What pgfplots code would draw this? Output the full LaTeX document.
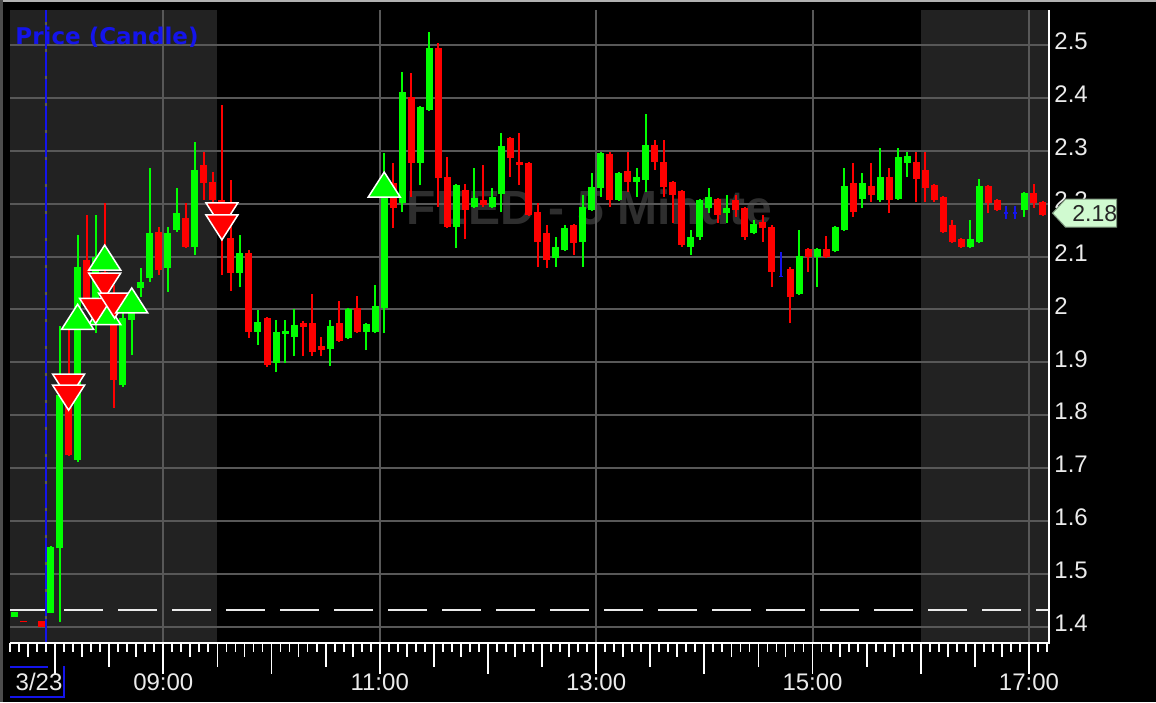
\documentclass[border=0pt]{standalone}
\usepackage{fontspec}
\setmainfont{Liberation Sans}
\newfontfamily\dvs{DejaVu Sans}
\usepackage{pgfplots}
\pgfplotsset{compat=1.18}
\usepackage{pgfplotstable}
\definecolor{cgreen}{RGB}{0,255,0}
\definecolor{cred}{RGB}{255,0,0}
\definecolor{cblue}{RGB}{20,20,235}
\definecolor{gridc}{RGB}{88,88,88}
\definecolor{shadec}{RGB}{34,34,34}
\definecolor{wmark}{RGB}{46,46,46}
\definecolor{labc}{RGB}{235,235,235}
\definecolor{boxc}{RGB}{208,250,208}

\pgfdeclareplotmark{tdown}{%
  \pgfpathmoveto{\pgfqpoint{-8pt}{6.25pt}}%
  \pgfpathlineto{\pgfqpoint{8pt}{6.25pt}}%
  \pgfpathlineto{\pgfqpoint{0pt}{-6.25pt}}%
  \pgfpathclose\pgfusepathqfillstroke}
\pgfdeclareplotmark{tup}{%
  \pgfpathmoveto{\pgfqpoint{-8pt}{-6.25pt}}%
  \pgfpathlineto{\pgfqpoint{8pt}{-6.25pt}}%
  \pgfpathlineto{\pgfqpoint{0pt}{6.25pt}}%
  \pgfpathclose\pgfusepathqfillstroke}

% x = minutes after midnight (bar centre), o h l c
\pgfplotstableread{
x o h l c
457.5 1.419 1.428 1.419 1.428
477.5 1.426 1.552 1.425 1.551
482.5 1.549 1.969 1.409 1.838
492.5 1.715 2.141 1.711 2.081
502.5 2.018 2.179 1.955 2.100
517.5 1.857 2.008 1.853 1.984
522.5 1.980 2.018 1.914 1.993
527.5 2.040 2.078 2.023 2.052
532.5 2.059 2.267 2.052 2.144
542.5 2.078 2.156 2.033 2.144
547.5 2.150 2.230 2.146 2.182
557.5 2.118 2.317 2.103 2.264
582.5 2.069 2.141 2.042 2.107
592.5 1.957 1.999 1.933 1.976
602.5 1.899 1.980 1.882 1.957
607.5 1.953 1.980 1.899 1.959
612.5 1.948 2.001 1.912 1.970
632.5 1.925 1.980 1.893 1.969
642.5 1.946 2.003 1.944 2.001
652.5 1.957 1.974 1.923 1.972
657.5 1.957 2.046 1.955 2.006
662.5 2.003 2.296 1.955 2.226
672.5 2.201 2.449 2.184 2.411
682.5 2.277 2.385 2.235 2.383
687.5 2.377 2.525 2.375 2.494
702.5 2.156 2.237 2.116 2.235
712.5 2.194 2.267 2.192 2.211
722.5 2.194 2.230 2.192 2.213
727.5 2.218 2.334 2.184 2.309
757.5 2.097 2.137 2.080 2.118
762.5 2.112 2.160 2.110 2.154
772.5 2.127 2.216 2.080 2.194
777.5 2.188 2.258 2.186 2.231
782.5 2.230 2.298 2.213 2.296
792.5 2.207 2.260 2.205 2.258
802.5 2.241 2.267 2.213 2.250
807.5 2.245 2.370 2.222 2.311
832.5 2.118 2.150 2.103 2.137
837.5 2.137 2.209 2.131 2.207
842.5 2.192 2.230 2.182 2.213
852.5 2.182 2.216 2.163 2.192
867.5 2.144 2.169 2.142 2.161
892.5 2.029 2.150 2.027 2.101
902.5 2.099 2.116 2.042 2.114
912.5 2.110 2.158 2.108 2.156
917.5 2.150 2.267 2.148 2.233
927.5 2.209 2.258 2.192 2.239
937.5 2.207 2.305 2.203 2.250
947.5 2.209 2.305 2.207 2.288
952.5 2.277 2.298 2.250 2.290
987.5 2.118 2.169 2.116 2.133
992.5 2.127 2.247 2.125 2.233
1017.5 2.188 2.222 2.175 2.220
}\greentab

\pgfplotstableread{
x o h l c
462.5 1.411 1.411 1.408 1.408
472.5 1.411 1.411 1.399 1.399
487.5 1.844 1.961 1.723 1.725
497.5 2.093 2.179 2.008 2.018
507.5 2.070 2.201 1.995 2.020
512.5 2.031 2.046 1.814 1.867
537.5 2.146 2.156 2.065 2.075
552.5 2.173 2.201 2.116 2.118
562.5 2.273 2.298 2.207 2.239
567.5 2.241 2.260 2.197 2.207
572.5 2.207 2.387 2.065 2.188
577.5 2.135 2.245 2.035 2.069
587.5 2.107 2.112 1.946 1.957
597.5 1.984 1.986 1.891 1.895
617.5 1.974 1.978 1.912 1.967
622.5 1.974 2.029 1.912 1.919
627.5 1.931 1.948 1.912 1.923
637.5 1.974 2.016 1.938 1.940
647.5 2.003 2.025 1.955 1.957
667.5 2.239 2.277 2.154 2.192
677.5 2.402 2.447 2.213 2.277
692.5 2.494 2.504 2.194 2.248
697.5 2.250 2.288 2.154 2.156
707.5 2.226 2.237 2.133 2.188
717.5 2.207 2.273 2.194 2.197
732.5 2.324 2.326 2.250 2.286
737.5 2.279 2.334 2.235 2.273
742.5 2.277 2.279 2.177 2.179
747.5 2.184 2.201 2.080 2.127
752.5 2.144 2.160 2.078 2.093
767.5 2.160 2.162 2.103 2.126
787.5 2.294 2.298 2.194 2.207
797.5 2.262 2.298 2.222 2.241
812.5 2.311 2.320 2.264 2.279
817.5 2.279 2.320 2.213 2.231
822.5 2.241 2.243 2.163 2.216
827.5 2.224 2.226 2.118 2.122
847.5 2.209 2.211 2.163 2.179
857.5 2.207 2.216 2.175 2.188
862.5 2.192 2.194 2.131 2.137
872.5 2.165 2.179 2.127 2.154
877.5 2.156 2.160 2.042 2.071
887.5 2.076 2.080 1.974 2.023
897.5 2.114 2.116 2.071 2.099
907.5 2.114 2.139 2.097 2.099
922.5 2.239 2.277 2.175 2.184
932.5 2.233 2.277 2.203 2.216
942.5 2.250 2.267 2.182 2.207
957.5 2.279 2.298 2.203 2.247
962.5 2.264 2.298 2.203 2.230
967.5 2.235 2.237 2.203 2.207
972.5 2.213 2.215 2.144 2.146
977.5 2.160 2.169 2.125 2.127
982.5 2.133 2.135 2.116 2.118
997.5 2.233 2.235 2.182 2.201
1002.5 2.207 2.209 2.186 2.188
1022.5 2.220 2.237 2.192 2.201
1027.5 2.203 2.205 2.177 2.179
}\redtab

\pgfplotstableread{
x o h l c
882.5 2.064 2.109 2.061 2.061
1007.5 2.184 2.196 2.171 2.181
1012.5 2.184 2.196 2.171 2.181
}\bluetab

\pgfplotsset{
  candle/.style 2 args={only marks, mark size=0pt, mark options={draw=none, fill=none}, forget plot,
    error bars/.cd, y dir=plus, y explicit, error mark=none,
    error bar style={draw=#1, line width=#2}},
}

\begin{document}
\begin{tikzpicture}
\fill[black] (0,0) rectangle (578pt,351pt);
\fill[black!30] (0,350.2pt) rectangle (578pt,351pt);
\fill[black!70] (0,0) rectangle (1.3pt,351pt);
\begin{axis}[
  at={(5pt,29.5pt)}, anchor=south west,
  scale only axis, width=519.5pt, height=316.5pt,
  xmin=455, xmax=1031.1, ymin=1.3691, ymax=2.5662,
  xtick=\empty, ytick=\empty,
  axis line style={draw=none},
  clip=false,
]
% session shading and watermark
\fill[shadec] (axis cs:455,1.3691) rectangle (axis cs:570,2.5662);
\fill[shadec] (axis cs:960,1.3691) rectangle (axis cs:1031.1,2.5662);
\node[anchor=base, text=wmark, font=\fontsize{24}{26}\selectfont\bfseries, inner sep=0] at (axis cs:776.3,2.160) {FEED - 5 Minute};

% grid
\pgfplotsinvokeforeach{1.4,1.5,1.6,1.7,1.8,1.9,2.0,2.1,2.2,2.3,2.4,2.5}{\draw[gridc, line width=1pt] (axis cs:455,#1) -- (axis cs:1031.1,#1);}
\pgfplotsinvokeforeach{475,540,660,780,900,1020}{\draw[gridc, line width=1pt] (axis cs:#1,1.3691) -- (axis cs:#1,2.5662);}

% previous close line and session line
\draw[labc, line width=1.2pt, dash pattern=on 19.5pt off 7.5pt] (axis cs:455,1.4316) -- (axis cs:1031.1,1.4316);
\draw[cblue, line width=1pt, dash pattern=on 12pt off 1.5pt] (axis cs:475,1.3691) -- (axis cs:475,2.5662);

% axis lines
\draw[white, line width=1pt] (axis cs:455,1.3691) -- (axis cs:1031.1,1.3691) -- (axis cs:1031.1,2.5662);

% ticks
\pgfplotsinvokeforeach{455,460,...,1030}{\draw[white, line width=0.9pt] (axis cs:#1,1.3691) -- ++(0pt,-4.5pt);}
\pgfplotsinvokeforeach{465,495,...,1005}{\draw[white, line width=0.9pt] (axis cs:#1,1.3691) -- ++(0pt,-7pt);}
\pgfplotsinvokeforeach{510,570,...,990}{\draw[white, line width=0.9pt] (axis cs:#1,1.3691) -- ++(0pt,-12pt);}
\pgfplotsinvokeforeach{480,540,...,1020}{\draw[white, line width=0.9pt] (axis cs:#1,1.3691) -- ++(0pt,-15.5pt);}

% candles: wicks
\addplot[candle={cgreen}{1pt}]
  table[x=x, y=l, y error plus expr=\thisrow{h}-\thisrow{l}] {\greentab};
\addplot[candle={cred}{1pt}]
  table[x=x, y=l, y error plus expr=\thisrow{h}-\thisrow{l}] {\redtab};
\addplot[candle={cblue}{1pt}]
  table[x=x, y=l, y error plus expr=\thisrow{h}-\thisrow{l}] {\bluetab};
% candles: bodies
\addplot[candle={cgreen}{3.5pt}]
  table[x=x, y expr={min(\thisrow{o},\thisrow{c})}, y error plus expr={abs(\thisrow{c}-\thisrow{o})}] {\greentab};
\addplot[candle={cred}{3.5pt}]
  table[x=x, y expr={min(\thisrow{o},\thisrow{c})}, y error plus expr={abs(\thisrow{c}-\thisrow{o})}] {\redtab};
\addplot[candle={cblue}{2pt}]
  table[x=x, y expr={min(\thisrow{o},\thisrow{c})}, y error plus expr={abs(\thisrow{c}-\thisrow{o})}] {\bluetab};

% signal markers
\addplot[only marks, mark=tup, mark options={fill=cgreen, draw=white, line width=0.75pt}] table {
x y
507.5 1.995
492.5 1.986
};
\addplot[only marks, mark=tdown, mark options={fill=cred, draw=white, line width=0.75pt}] table {
x y
502.5 1.997
507.5 2.045
513.0 2.007
487.5 1.854
487.5 1.833
572.5 2.178
572.5 2.155
};
\addplot[only marks, mark=tup, mark options={fill=cgreen, draw=white, line width=0.75pt}] table {
x y
522.5 2.017
507.5 2.098
662.5 2.236
};

% title
\node[anchor=base west, inner sep=0, text=cblue, font=\dvs\bfseries\fontsize{11.5}{13}\selectfont] at (axis cs:457.8,2.5) {Price (Candle)};

% y tick labels (right)
\tikzset{ylab/.style={anchor=west, inner sep=0, text=labc, font=\fontsize{12}{14}\selectfont, xshift=2.5pt, yshift=1.75pt}}
\node[ylab] at (axis cs:1031.1,2.5) {2.5};
\node[ylab] at (axis cs:1031.1,2.4) {2.4};
\node[ylab] at (axis cs:1031.1,2.3) {2.3};
\node[ylab] at (axis cs:1031.1,2.2) {2.2};
\node[ylab] at (axis cs:1031.1,2.1) {2.1};
\node[ylab] at (axis cs:1031.1,2.0) {2};
\node[ylab] at (axis cs:1031.1,1.9) {1.9};
\node[ylab] at (axis cs:1031.1,1.8) {1.8};
\node[ylab] at (axis cs:1031.1,1.7) {1.7};
\node[ylab] at (axis cs:1031.1,1.6) {1.6};
\node[ylab] at (axis cs:1031.1,1.5) {1.5};
\node[ylab] at (axis cs:1031.1,1.4) {1.4};

% last price flag
\draw[fill=boxc, draw=boxc!60!black, line width=0.5pt] (axis cs:1031.1,2.182) ++(1.75pt,0pt) -- ++(6.5pt,7pt) -- ++(25.5pt,0pt) -- ++(0pt,-14pt) -- ++(-25.5pt,0pt) -- cycle;
\node[anchor=west, inner sep=0, text=black!85, font=\fontsize{11.5}{13}\selectfont, xshift=11.5pt] at (axis cs:1031.1,2.182) {2.18};

% x tick labels
\tikzset{xlab/.style={anchor=base, inner sep=0, text=labc, font=\fontsize{12}{14}\selectfont, yshift=-23.5pt}}
\node[xlab] at (axis cs:471.1,1.3691) {3/23};
\node[xlab] at (axis cs:540,1.3691) {09:00};
\node[xlab] at (axis cs:660,1.3691) {11:00};
\node[xlab] at (axis cs:780,1.3691) {13:00};
\node[xlab] at (axis cs:900,1.3691) {15:00};
\node[xlab] at (axis cs:1020,1.3691) {17:00};
\end{axis}
% selection bracket round the date label
\draw[cblue, line width=1pt] (5pt,17.5pt) -- (24pt,17.5pt);
\draw[cblue, line width=1pt] (32pt,18pt) -- (32pt,2pt);
\draw[cblue, line width=1pt] (5pt,2.5pt) -- (32pt,2.5pt);
\pgfresetboundingbox
\useasboundingbox (0,0) rectangle (578pt,351pt);
\end{tikzpicture}
\end{document}
